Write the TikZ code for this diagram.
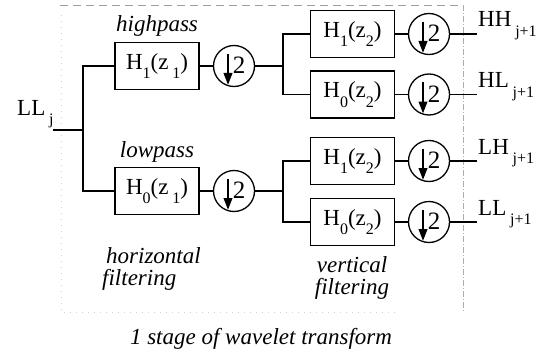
\documentclass[tikz,border=0pt]{standalone}
\usepackage{fontspec}
\setmainfont{Liberation Serif}[ItalicFont=Liberation Serif Italic]
\usetikzlibrary{arrows.meta,calc}
\newcommand{\mysub}[1]{\raisebox{-0.42em}{\fontsize{16}{16}\selectfont #1}}
\begin{document}
\begin{tikzpicture}[x=1pt,y=-1pt,
  filt/.style={draw,line width=1.3pt,minimum width=84pt,minimum height=47pt,inner sep=0pt,font=\fontsize{23}{23}\selectfont},
  ds/.style={draw,circle,line width=1.3pt,minimum size=41pt,inner sep=0pt},
  wire/.style={line width=1.2pt},
  lab/.style={inner sep=0pt,font=\fontsize{23}{23}\selectfont\itshape},
  outl/.style={anchor=base west,inner sep=0pt,font=\fontsize{23}{23}\selectfont},
  dsarrow/.style={line width=2.2pt,-{Triangle[length=12pt,width=8.5pt]}},
  two/.style={inner sep=0pt,font=\fontsize{25}{25}\selectfont}]
\useasboundingbox (0,0) rectangle (537,350);
% frame
\draw[gray!75, dash pattern=on 8pt off 5pt, line width=0.8pt] (60,5) -- (463,5);
\draw[gray!65, dash pattern=on 6pt off 2pt on 1pt off 2pt, line width=0.7pt] (463,5) -- (463,312);
\draw[gray!35, dash pattern=on 1pt off 5pt, line width=0.8pt] (61,15) -- (61,312) -- (400,312);
% filters
\node[filt] (hA) at (157,66) {H\mysub{1}(z\,\mysub{1})};
\node[filt] (hB) at (157,191) {H\mysub{0}(z\,\mysub{1})};
\node[filt] (vA) at (352.5,34) {H\mysub{1}(z\mysub{2})};
\node[filt] (vB) at (352.5,94.5) {H\mysub{0}(z\mysub{2})};
\node[filt] (vC) at (352.5,161) {H\mysub{1}(z\mysub{2})};
\node[filt] (vD) at (352.5,222) {H\mysub{0}(z\mysub{2})};
% downsamplers
\foreach \n/\x/\y in {cA/234/66, cB/234/191, dA/429/34, dB/429/94.5, dC/429/161, dD/429/222}{
  \node[ds] (\n) at (\x,\y) {};
  \draw[dsarrow] ($(\n.center)+(-6,-12)$) -- ($(\n.center)+(-6,19)$);
  \node[two] (\n t) at ($(\n.center)+(5,-0.5)$) {2};
}
% input
\node[outl] (inl) at (17,115) {LL\,\mysub{j}};
\coordinate (src) at (53,130);
\coordinate (b1) at (83,130);
\draw[wire] (src) -- (b1);
\draw[wire] (hA.west) -| (b1) |- (hB.west);
\draw[wire] (hA.east) -- (cA.west);
\draw[wire] (hB.east) -- (cB.west);
\coordinate (b2) at (283,66);
\coordinate (b3) at (283,191);
\draw[wire] (cA.east) -- (b2);
\draw[wire] (cB.east) -- (b3);
\draw[wire] (vA.west) -| (b2) |- (vB.west);
\draw[wire] (vC.west) -| (b3) |- (vD.west);
\foreach \v/\d in {vA/dA, vB/dB, vC/dC, vD/dD}{
  \draw[wire] (\v.east) -- (\d.west);
}
\coordinate (oA) at (477,34);
\coordinate (oB) at (477,94.5);
\coordinate (oC) at (477,161);
\coordinate (oD) at (477,222);
\draw[wire] (dA.east) -- (oA);
\draw[wire] (dB.east) -- (oB);
\draw[wire] (dC.east) -- (oC);
\draw[wire] (dD.east) -- (oD);
\node[outl] (lA) at (478,27) {HH\,\mysub{j+1}};
\node[outl] (lB) at (478,88) {HL\,\mysub{j+1}};
\node[outl] (lC) at (478,154) {LH\,\mysub{j+1}};
\node[outl] (lD) at (478,215) {LL\,\mysub{j+1}};
% labels
\node[lab,anchor=base] (hp) at (157,32) {highpass};
\node[lab,anchor=base] (lp) at (157,157) {lowpass};
\node[lab,anchor=base west] (hf1) at (106,263) {horizontal};
\node[lab,anchor=base west] (hf2) at (102,285) {filtering};
\node[lab,anchor=base] (vf1) at (352,272) {vertical};
\node[lab,anchor=base] (vf2) at (352,294) {filtering};
\node[lab,anchor=base] (cap) at (261,344) {1 stage of wavelet transform};
\end{tikzpicture}
\end{document}
